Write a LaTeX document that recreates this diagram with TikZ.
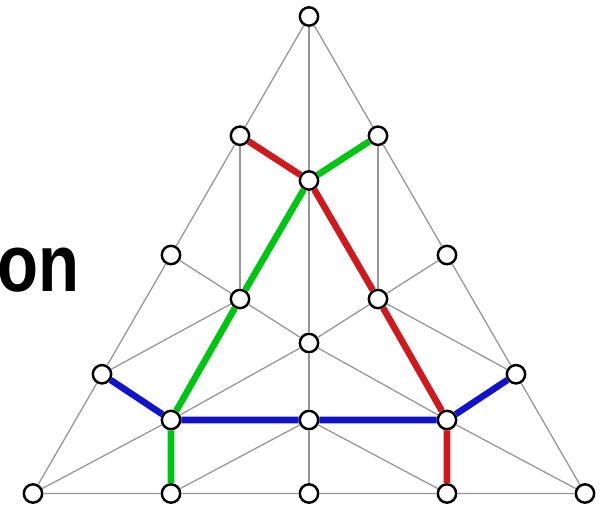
\documentclass[tikz,border=0pt]{standalone}
\usepackage{fontspec}
\setsansfont{Liberation Sans}
\usetikzlibrary{positioning}
\definecolor{pathred}{RGB}{204,26,30}
\definecolor{pathgreen}{RGB}{0,196,20}
\definecolor{pathblue}{RGB}{18,18,200}
\definecolor{gridgray}{RGB}{150,150,150}
\tikzset{
  pt/.style={circle, draw=black, fill=white, line width=2.1pt, minimum size=0.55cm, inner sep=0pt},
  grid line/.style={draw=gridgray, line width=1.1pt},
  route/.style={line width=5.6pt},
}

\begin{document}
\begin{tikzpicture}[x=0.03cm, y=-0.03cm]
    \useasboundingbox (0,0) rectangle (606,508);
    % 外三角形上的点
    \node[pt] (t)  at (309,16.5) {};
    \node[pt] (l1) at (240,135.75) {};
    \node[pt] (l2) at (171,255) {};
    \node[pt] (l3) at (102,374.25) {};
    \node[pt] (bl) at (33,493.5) {};
    \node[pt] (r1) at (378,135.75) {};
    \node[pt] (r2) at (447,255) {};
    \node[pt] (r3) at (516,374.25) {};
    \node[pt] (br) at (585,493.5) {};
    \node[pt] (b1) at (171,493.5) {};
    \node[pt] (b2) at (309,493.5) {};
    \node[pt] (b3) at (447,493.5) {};
    % 内部的点
    \node[pt] (c1) at (309,180.5) {};
    \node[pt] (c2) at (240,299) {};
    \node[pt] (c3) at (378,299) {};
    \node[pt] (c4) at (309,343) {};
    \node[pt] (c5) at (171,420) {};
    \node[pt] (c6) at (309,420) {};
    \node[pt] (c7) at (447,420) {};

    % 灰色网格线
    \draw[grid line] (t) -- (l1) -- (l2) -- (l3) -- (bl) -- (b1) -- (b2) -- (b3) -- (br) -- (r3) -- (r2) -- (r1) -- (t);
    \draw[grid line] (t) -- (c1) -- (c4) -- (c6) -- (b2);
    \draw[grid line] (l1) -- (c2);
    \draw[grid line] (r1) -- (c3);
    \draw[grid line] (c5) -- (b1);
    \draw[grid line] (c7) -- (b3);
    \draw[grid line] (l2) -- (c2) -- (c4) -- (c3) -- (r2);
    \draw[grid line] (l3) -- (c2);
    \draw[grid line] (r3) -- (c3);
    \draw[grid line] (c5) -- (c4) -- (c7);
    \draw[grid line] (bl) -- (c5);
    \draw[grid line] (br) -- (c7);
    \draw[grid line] (b1) -- (c6) -- (b3);
    % 三条彩色路径
    \draw[route, pathred] (l1) -- (c1) -- (c3) -- (c7) -- (b3);
    \draw[route, pathgreen] (r1) -- (c1) -- (c2) -- (c5) -- (b1);
    \draw[route, pathblue] (l3) -- (c5) -- (c6) -- (c7) -- (r3);

    \node[anchor=base east, inner sep=0pt, font=\sffamily\bfseries\fontsize{69}{76}\selectfont] (word) at (80,292) {\scalebox{0.83}[1]{on}};
\end{tikzpicture}
\end{document}
